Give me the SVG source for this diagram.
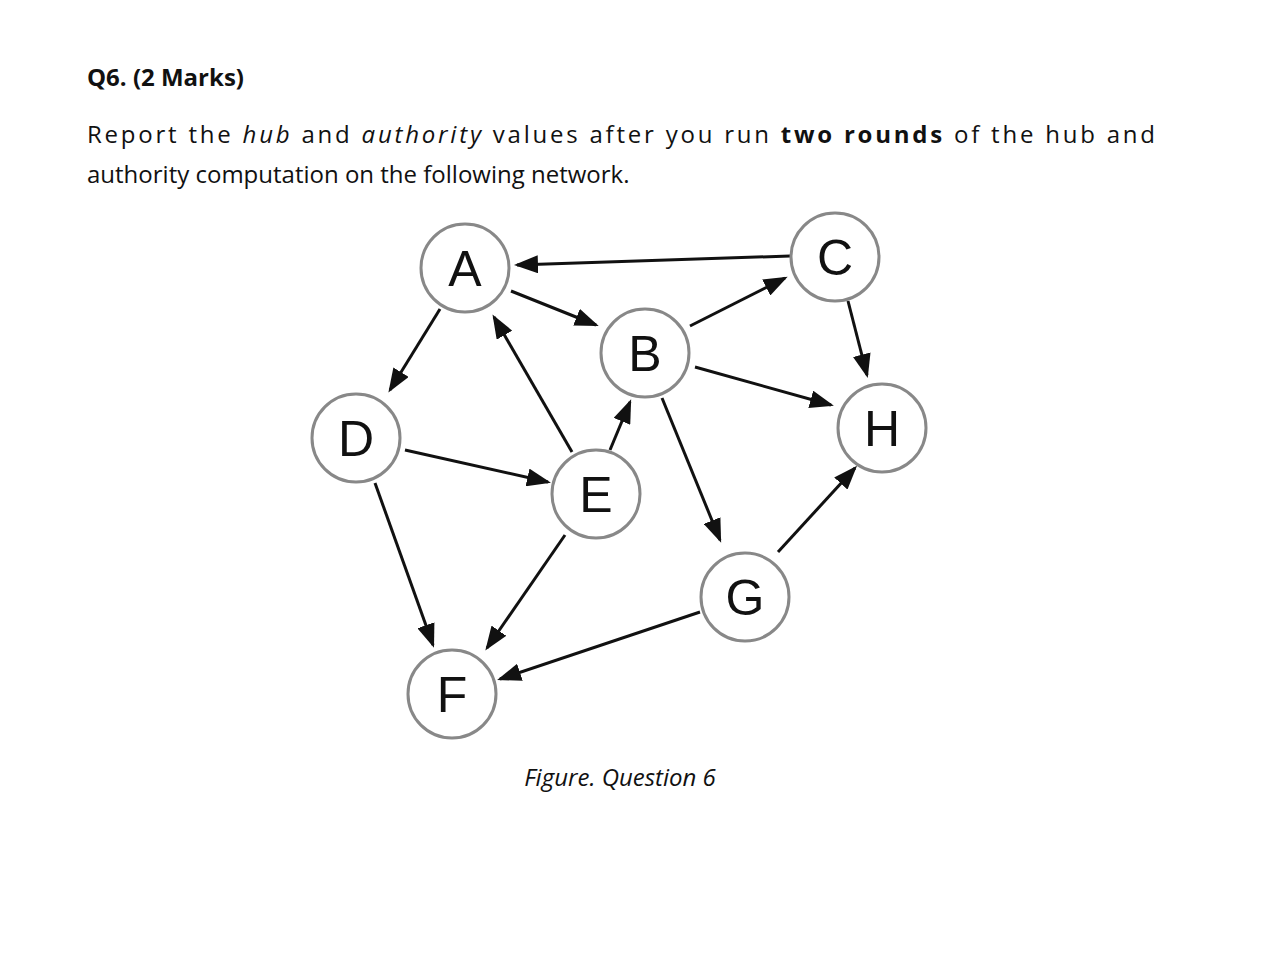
<svg xmlns="http://www.w3.org/2000/svg" width="1284" height="962" viewBox="0 0 1284 962">
<style>
.t{font-family:"Open Sans","Liberation Sans",sans-serif;font-size:24px;fill:#111}
.n circle{fill:#fff;stroke:#888;stroke-width:3}
.n text{font-family:"Liberation Sans",Arial,sans-serif;font-size:50px;text-anchor:middle;fill:#111}
.e line{stroke:#111;stroke-width:3;marker-end:url(#ah)}
</style>
<defs><marker id="ah" markerWidth="8" markerHeight="6" refX="7" refY="3" orient="auto" markerUnits="strokeWidth"><path d="M0,0L8,3L0,6z" fill="#111"/></marker></defs>
<rect width="1284" height="962" fill="#fff"/>
<text class="t" x="87" y="86" font-weight="bold" font-size="26">Q6. (2 Marks)</text>
<text class="t" x="87" y="143" textLength="1068" lengthAdjust="spacing">Report the <tspan font-style="italic">hub</tspan> and <tspan font-style="italic">authority</tspan> values after you run <tspan font-weight="bold">two rounds</tspan> of the hub and</text>
<text class="t" x="87" y="183">authority computation on the following network.</text>
<text class="t" x="620" y="786" text-anchor="middle" font-style="italic" font-size="22">Figure. Question 6</text>
<g class="e" id="edges">
<line x1="790" y1="256" x2="517" y2="265"/>
<line x1="511" y1="291" x2="596" y2="325"/>
<line x1="690" y1="326" x2="785" y2="278"/>
<line x1="848" y1="301" x2="867" y2="375"/>
<line x1="695" y1="367" x2="831" y2="405"/>
<line x1="440" y1="309" x2="390" y2="390"/>
<line x1="572" y1="452" x2="494" y2="317"/>
<line x1="610" y1="450" x2="630" y2="402"/>
<line x1="405" y1="450" x2="548" y2="482"/>
<line x1="662" y1="398" x2="720" y2="540"/>
<line x1="778" y1="552" x2="855" y2="468"/>
<line x1="375" y1="483" x2="433" y2="645"/>
<line x1="565" y1="535" x2="487" y2="648"/>
<line x1="700" y1="612" x2="500" y2="679"/>
</g>
<g class="n" id="A"><circle cx="465" cy="268" r="44"/><text x="465" y="286">A</text></g>
<g class="n" id="C"><circle cx="835" cy="257" r="44"/><text x="835" y="275">C</text></g>
<g class="n" id="B"><circle cx="645" cy="353" r="44"/><text x="645" y="371">B</text></g>
<g class="n" id="H"><circle cx="882" cy="428" r="44"/><text x="882" y="446">H</text></g>
<g class="n" id="D"><circle cx="356" cy="438" r="44"/><text x="356" y="456">D</text></g>
<g class="n" id="E"><circle cx="596" cy="494" r="44"/><text x="596" y="512">E</text></g>
<g class="n" id="G"><circle cx="745" cy="597" r="44"/><text x="745" y="615">G</text></g>
<g class="n" id="F"><circle cx="452" cy="694" r="44"/><text x="452" y="712">F</text></g>
</svg>
